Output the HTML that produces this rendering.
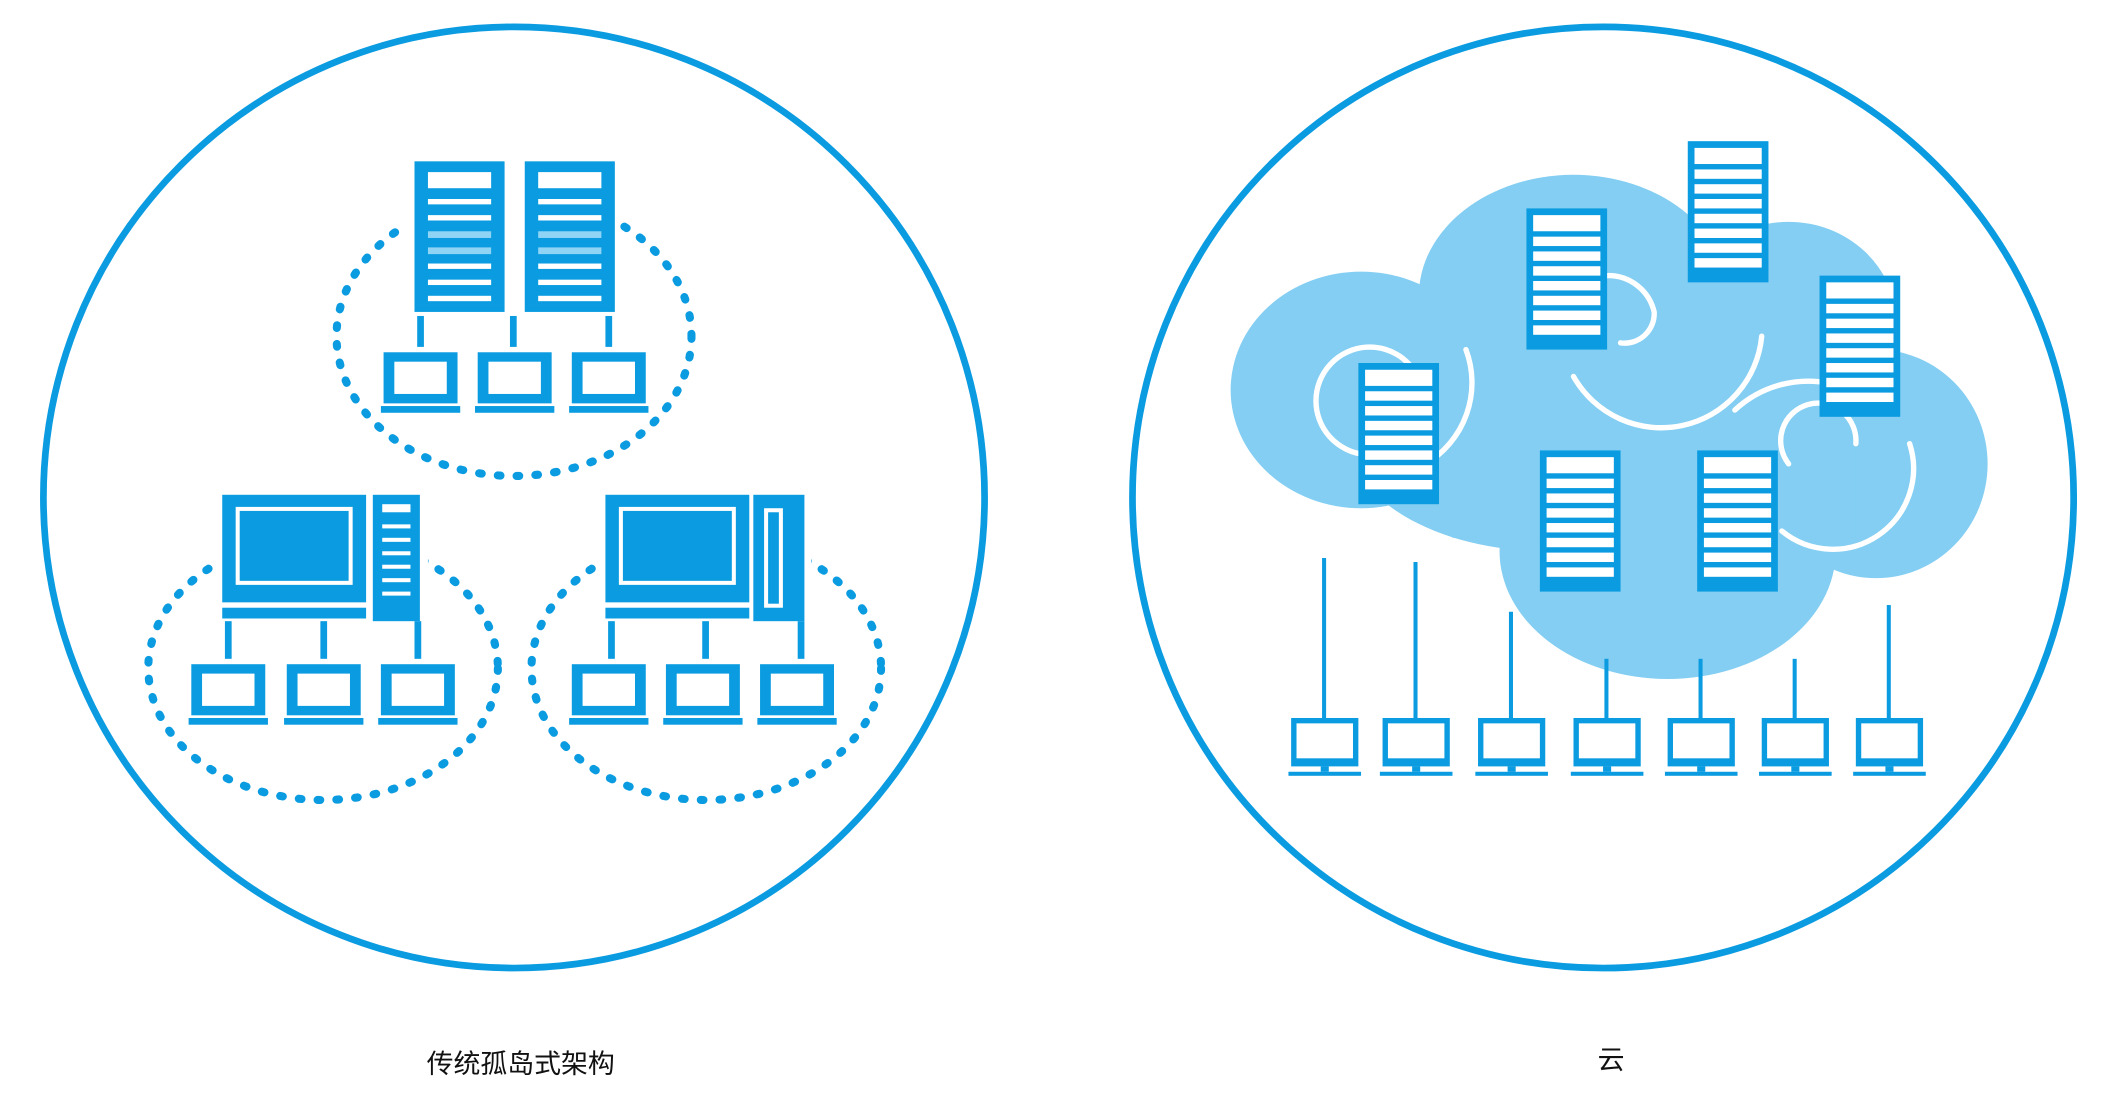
<!DOCTYPE html>
<html><head><meta charset="utf-8"><style>
html,body{margin:0;padding:0;background:#fff;}
svg{display:block;}
text{font-family:"Liberation Sans","Noto Sans CJK SC",sans-serif;}
</style></head><body>
<svg width="2109" height="1120" viewBox="0 0 1568 833" xmlns="http://www.w3.org/2000/svg">
<defs>
  <g id="srv">
    <rect x="0" y="0" width="67" height="112" fill="#0A9BE0"/>
    <rect x="10" y="8" width="47" height="12" fill="#fff"/>
    <g fill="#fff">
      <rect x="10" y="28" width="47" height="4"/><rect x="10" y="40" width="47" height="4"/>
      <rect x="10" y="52" width="47" height="5" fill="#8fd3f5"/><rect x="10" y="64" width="47" height="5" fill="#8fd3f5"/>
      <rect x="10" y="76" width="47" height="4"/><rect x="10" y="88" width="47" height="4"/>
      <rect x="10" y="100" width="47" height="4"/>
    </g>
  </g>
  <g id="lap">
    <rect x="0" y="0" width="55" height="38" fill="#0A9BE0"/>
    <rect x="8" y="7" width="39" height="24" fill="#fff"/>
    <rect x="-2" y="40" width="59" height="5" fill="#0A9BE0"/>
  </g>
  <g id="csrv">
    <rect x="0" y="0" width="60" height="105" fill="#0A9BE0"/>
    <rect x="5" y="5" width="50" height="12" fill="#fff"/>
    <g fill="#fff">
      <rect x="5" y="21" width="50" height="7"/><rect x="5" y="32" width="50" height="7"/>
      <rect x="5" y="43" width="50" height="7"/><rect x="5" y="54" width="50" height="7"/>
      <rect x="5" y="65" width="50" height="7"/><rect x="5" y="76" width="50" height="7"/>
      <rect x="5" y="87" width="50" height="7"/>
    </g>
  </g>
  <g id="clap">
    <rect x="0" y="0" width="50" height="36" fill="#0A9BE0"/>
    <rect x="4" y="4" width="42" height="26" fill="#fff"/>
    <rect x="22" y="36" width="6" height="4" fill="#0A9BE0"/>
    <rect x="-2" y="40" width="54" height="3" fill="#0A9BE0"/>
  </g>
</defs>

<circle cx="382" cy="370" r="350" fill="none" stroke="#0A9BE0" stroke-width="5"/>
<g fill="none" stroke="#0A9BE0" stroke-width="6" stroke-dasharray="2 12" stroke-linecap="round">
  <ellipse cx="382" cy="250" rx="132" ry="104"/>
  <ellipse cx="240" cy="497" rx="130" ry="98"/>
  <ellipse cx="525" cy="497" rx="130" ry="98"/>
</g>
<rect x="300" y="115" width="160" height="120" fill="#fff"/>
<use href="#srv" x="308" y="120"/>
<use href="#srv" x="390" y="120"/>
<g fill="#0A9BE0">
  <rect x="310" y="235" width="5" height="28"/><rect x="379" y="235" width="5" height="28"/><rect x="450" y="235" width="5" height="28"/>
</g>
<rect x="280" y="258" width="205" height="52" fill="#fff"/>
<use href="#lap" x="285" y="262"/><use href="#lap" x="355" y="262"/><use href="#lap" x="425" y="262"/>

<rect x="160" y="363" width="158" height="104" fill="#fff"/>
<rect x="165" y="368" width="107" height="80" fill="#0A9BE0"/>
<rect x="175" y="377" width="87" height="58" fill="#fff"/>
<rect x="178" y="380" width="81" height="52" fill="#0A9BE0"/>
<rect x="165" y="452" width="107" height="8" fill="#0A9BE0"/>
<rect x="277" y="368" width="35" height="94" fill="#0A9BE0"/>
<g fill="#fff"><rect x="284" y="375" width="21" height="6"/><rect x="284" y="390" width="21" height="3"/><rect x="284" y="400" width="21" height="3"/><rect x="284" y="410" width="21" height="3"/><rect x="284" y="420" width="21" height="3"/><rect x="284" y="430" width="21" height="3"/><rect x="284" y="440" width="21" height="3"/></g>
<g fill="#0A9BE0"><rect x="167" y="462" width="5" height="32"/><rect x="238" y="462" width="5" height="32"/><rect x="308" y="462" width="5" height="32"/></g>
<rect x="138" y="490" width="205" height="60" fill="#fff"/>
<use href="#lap" x="142" y="494"/><use href="#lap" x="213" y="494"/><use href="#lap" x="283" y="494"/>

<rect x="445" y="363" width="158" height="104" fill="#fff"/>
<rect x="450" y="368" width="107" height="80" fill="#0A9BE0"/>
<rect x="460" y="377" width="87" height="58" fill="#fff"/>
<rect x="463" y="380" width="81" height="52" fill="#0A9BE0"/>
<rect x="450" y="452" width="107" height="8" fill="#0A9BE0"/>
<rect x="560" y="368" width="38" height="94" fill="#0A9BE0"/>
<rect x="568" y="378" width="14" height="74" fill="#fff"/><rect x="571" y="381" width="8" height="68" fill="#0A9BE0"/>
<g fill="#0A9BE0"><rect x="452" y="462" width="5" height="32"/><rect x="522" y="462" width="5" height="32"/><rect x="593" y="462" width="5" height="32"/></g>
<rect x="420" y="490" width="205" height="60" fill="#fff"/>
<use href="#lap" x="425" y="494"/><use href="#lap" x="495" y="494"/><use href="#lap" x="565" y="494"/>

<text x="387" y="798" font-size="20" text-anchor="middle" fill="#111">传统孤岛式架构</text>

<circle cx="1192" cy="370" r="350" fill="none" stroke="#0A9BE0" stroke-width="5"/>
<g fill="#83CEF2">
  <ellipse cx="1012" cy="290" rx="97" ry="88"/>
  <ellipse cx="1170" cy="220" rx="115" ry="90"/>
  <ellipse cx="1330" cy="240" rx="80" ry="75"/>
  <ellipse cx="1395" cy="345" rx="83" ry="85"/>
  <ellipse cx="1240" cy="410" rx="125" ry="95"/>
  <ellipse cx="1150" cy="320" rx="150" ry="90"/>
  <rect x="1080" y="250" width="300" height="150"/>
</g>
<g fill="none" stroke="#fff" stroke-width="4" stroke-linecap="round">
  <path d="M1015 338 A40 40 0 1 1 1058 292"/>
  <path d="M1090 260 A70 70 0 0 1 1060 345"/>
  <path d="M1195 205 A35 35 0 0 1 1230 232 A22 22 0 0 1 1205 255"/>
  <path d="M1170 280 A75 75 0 0 0 1310 250"/>
  <path d="M1330 345 A28 28 0 1 1 1380 330"/>
  <path d="M1325 395 A60 60 0 0 0 1420 330"/>
  <path d="M1290 305 A80 80 0 0 1 1360 285"/>
</g>
<use href="#csrv" x="1010" y="270"/>
<use href="#csrv" x="1135" y="155"/>
<use href="#csrv" x="1255" y="105"/>
<use href="#csrv" x="1353" y="205"/>
<use href="#csrv" x="1145" y="335"/>
<use href="#csrv" x="1262" y="335"/>
<g fill="#0A9BE0">
  <rect x="983" y="415" width="3" height="120"/>
  <rect x="1051" y="418" width="3" height="117"/>
  <rect x="1122" y="455" width="3" height="80"/>
  <rect x="1193" y="490" width="3" height="45"/>
  <rect x="1263" y="490" width="3" height="45"/>
  <rect x="1333" y="490" width="3" height="45"/>
  <rect x="1403" y="450" width="3" height="85"/>
</g>
<use href="#clap" x="960" y="534"/><use href="#clap" x="1028" y="534"/><use href="#clap" x="1099" y="534"/>
<use href="#clap" x="1170" y="534"/><use href="#clap" x="1240" y="534"/><use href="#clap" x="1310" y="534"/><use href="#clap" x="1380" y="534"/>

<text x="1198" y="795" font-size="20" text-anchor="middle" fill="#111">云</text>
</svg>
</body></html>
